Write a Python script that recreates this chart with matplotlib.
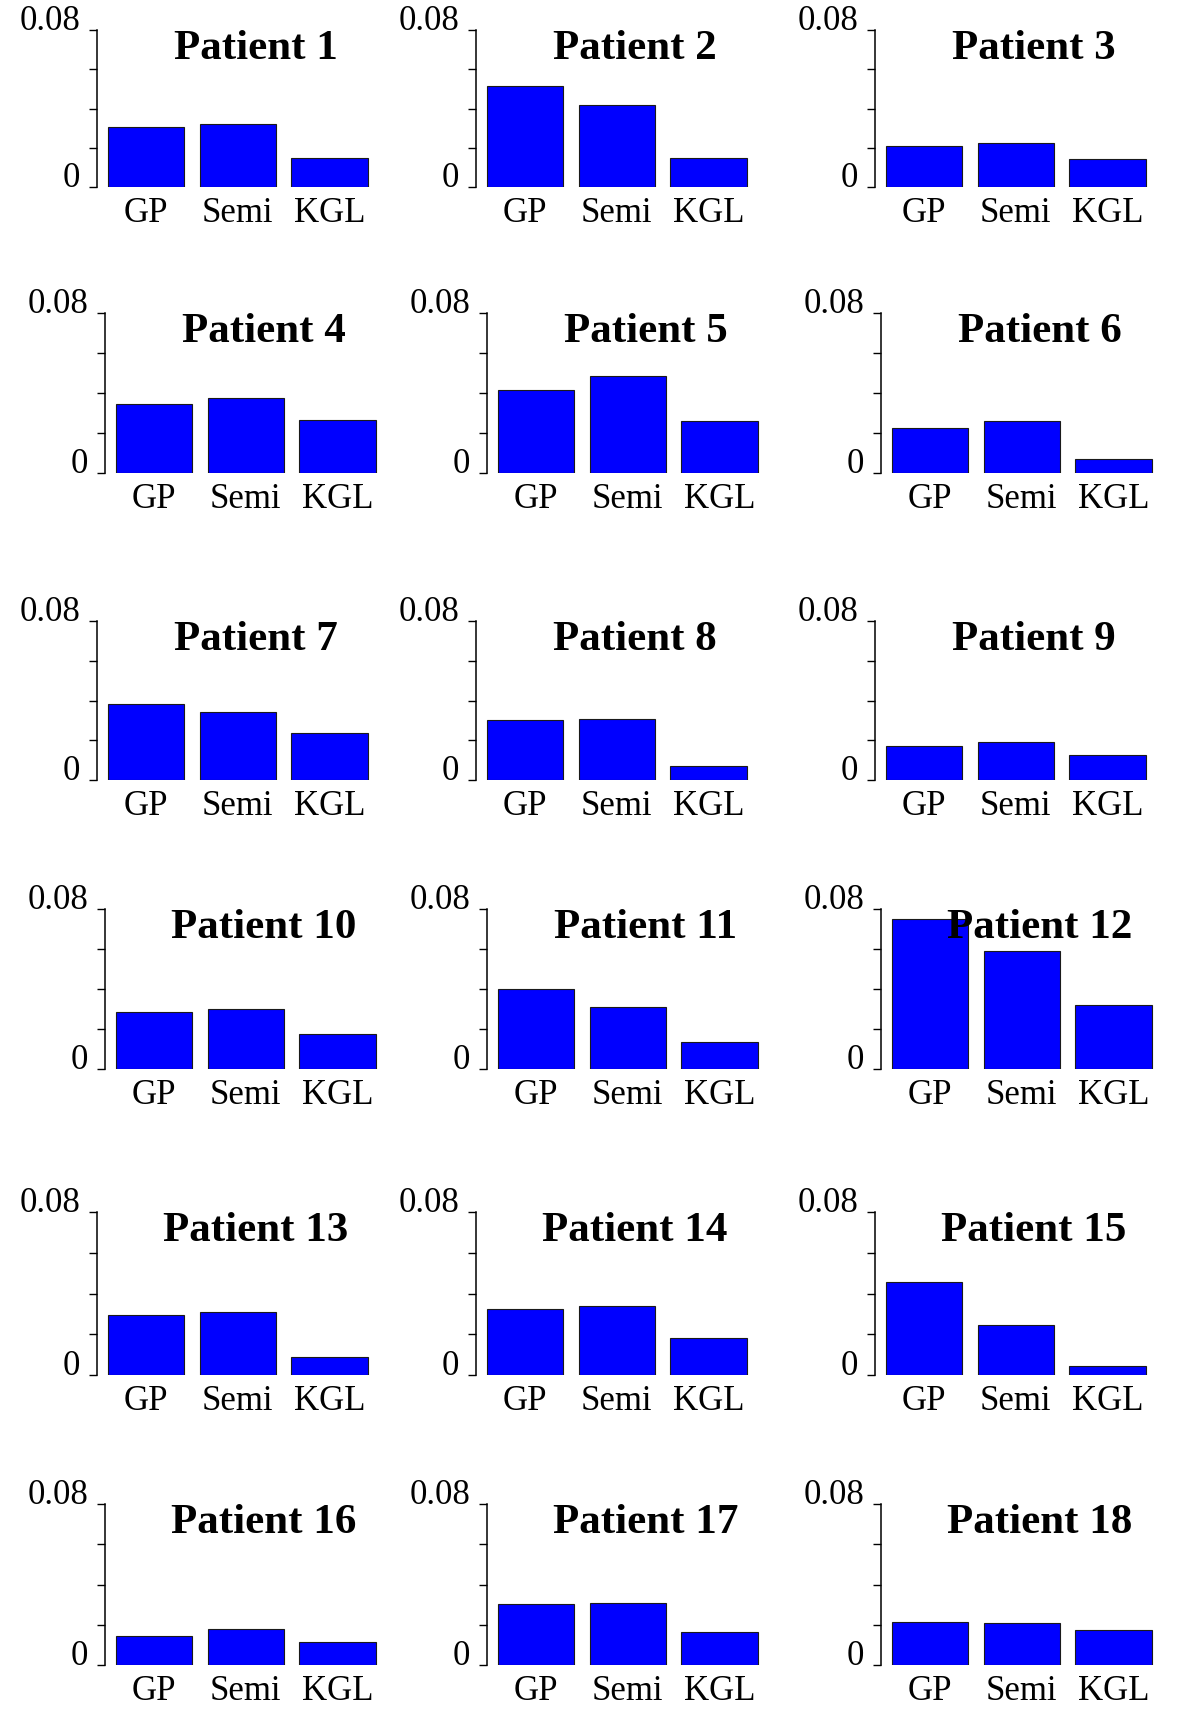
import matplotlib
matplotlib.use("Agg")
import matplotlib.pyplot as plt

methods = ["GP", "Semi", "KGL"]
patients = [f"Patient {i}" for i in range(1, 19)]
gp   = [0.0305, 0.0517, 0.0207, 0.0343, 0.0414, 0.0223, 0.0384, 0.0300, 0.0170,
        0.0283, 0.0400, 0.0750, 0.0293, 0.0326, 0.0454, 0.0144, 0.0303, 0.0214]
semi = [0.0320, 0.0420, 0.0223, 0.0376, 0.0484, 0.0261, 0.0340, 0.0305, 0.0193,
        0.0300, 0.0310, 0.0590, 0.0310, 0.0340, 0.0243, 0.0180, 0.0310, 0.0210]
kgl  = [0.0150, 0.0147, 0.0141, 0.0267, 0.0261, 0.0071, 0.0236, 0.0071, 0.0127,
        0.0174, 0.0136, 0.0320, 0.0090, 0.0184, 0.0043, 0.0114, 0.0162, 0.0173]
yticks = [0, 0.02, 0.04, 0.06, 0.08]
yticklabels = ["0", "", "", "", "0.08"]

W, H = 1200, 1709
fig = plt.figure(figsize=(W / 100, H / 100), dpi=100)
plt.rcParams["font.family"] = ["Liberation Serif", "DejaVu Serif"]

row_top = [30, 313, 621, 909, 1212, 1504]
row_bot = [187, 473, 780, 1069, 1375, 1665]
col_left_odd = [97, 476, 875]
col_left_even = [105, 487, 881]
ax_w = 274

for i, name in enumerate(patients):
    r, c = divmod(i, 3)
    left = (col_left_odd if r % 2 == 0 else col_left_even)[c]
    ax = fig.add_axes([left / W, 1 - row_bot[r] / H, ax_w / W, (row_bot[r] - row_top[r]) / H])
    vals = [gp[i], semi[i], kgl[i]]
    ax.bar(range(3), vals, width=0.83, color="#0000ff", edgecolor="#1a1a1a", linewidth=0.8)
    ax.set_xlim(-0.53, 2.45)
    ax.set_ylim(0, 0.08)
    for s in ["top", "right", "bottom"]:
        ax.spines[s].set_visible(False)
    ax.spines["left"].set_linewidth(1.1)
    ax.set_yticks(yticks)
    ax.set_yticklabels(yticklabels, fontsize=25)
    for lab in ax.get_yticklabels():
        lab.set_verticalalignment("baseline")
    ax.tick_params(axis="y", direction="out", length=6, width=1.0, pad=6)
    ax.set_xticks(range(3))
    ax.set_xticklabels(methods, fontsize=25)
    ax.tick_params(axis="x", length=0, pad=7)
    ax.text(0.58, 1.0, name, transform=ax.transAxes, ha="center", va="top",
            fontsize=31, fontweight="bold")

fig.savefig("out.png", dpi=100, facecolor="white")
